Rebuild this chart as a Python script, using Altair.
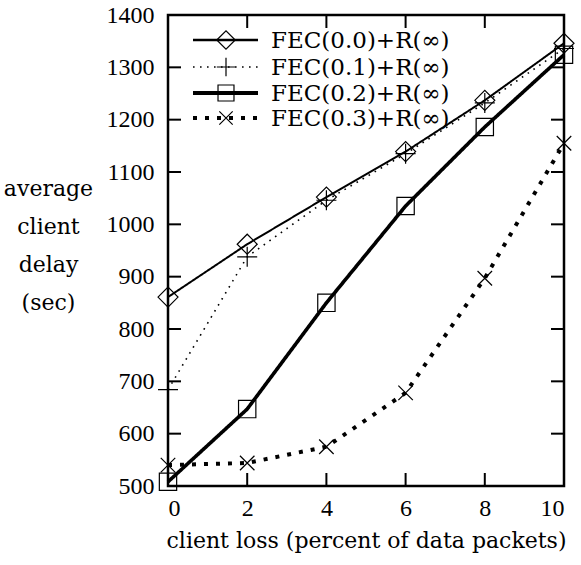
import altair as alt
import pandas as pd

# client loss (percent of data packets)
loss = [0, 2, 4, 6, 8, 10]

# average client delay (sec) for each FEC level
fec_00 = [861, 962, 1052, 1139, 1237, 1346]
fec_01 = [684, 938, 1046, 1135, 1232, 1336]
fec_02 = [508, 647, 850, 1035, 1186, 1324]
fec_03 = [540, 544, 575, 678, 897, 1155]

series_labels = ["FEC(0.0)+R(∞)", "FEC(0.1)+R(∞)", "FEC(0.2)+R(∞)", "FEC(0.3)+R(∞)"]
x_ticks = [0, 2, 4, 6, 8, 10]
y_ticks = [500, 600, 700, 800, 900, 1000, 1100, 1200, 1300, 1400]

W, H = 396, 471
NUM_FONT = "Liberation Serif"
TXT_FONT = "DejaVu Serif"

# path symbols for the open plus and x markers
PLUS = "M-1,0L1,0M0,-1L0,1"
XMARK = "M-1,-1L1,1M-1,1L1,-1"

styles = [
    dict(values=fec_00, width=2, dash=[1, 0], shape="diamond", size=400),
    dict(values=fec_01, width=1.6, dash=[1.6, 5.4], shape=PLUS, size=400),
    dict(values=fec_02, width=3.6, dash=[1, 0], shape="square", size=300),
    dict(values=fec_03, width=4, dash=[4, 8], shape=XMARK, size=210),
]

xscale = alt.Scale(domain=[0, 10], nice=False, zero=False)
yscale = alt.Scale(domain=[500, 1400], nice=False, zero=False)

x_axis = alt.Axis(
    values=x_ticks, format="d", ticks=False, domain=False, grid=False,
    labelFont=NUM_FONT, labelFontSize=24, labelColor="black", labelPadding=10,
    title="client loss (percent of data packets)",
    titleFont=TXT_FONT, titleFontSize=22, titleFontWeight="normal", titleColor="black",
    titlePadding=10,
)
y_axis = alt.Axis(
    values=y_ticks, format="d", ticks=False, domain=False, grid=False,
    labelFont=NUM_FONT, labelFontSize=24, labelColor="black", labelPadding=14,
    title=["average", "client", "delay", "(sec)"],
    titleFont=TXT_FONT, titleFontSize=22, titleFontWeight="normal", titleColor="black",
    titleAngle=0, titleAlign="center", titleBaseline="alphabetic",
    titleX=-120, titleY=180, titleLineHeight=38,
)


def xq(field):
    return alt.X(f"{field}:Q", scale=xscale, axis=x_axis)


def yq(field):
    return alt.Y(f"{field}:Q", scale=yscale, axis=y_axis)


layers = []
legend_rows = [25, 52, 78, 103]

for i, (label, st) in enumerate(zip(series_labels, styles)):
    df = pd.DataFrame({"loss": loss, "delay": st["values"], "series": label})
    line = alt.Chart(df).mark_line(
        color="black", strokeWidth=st["width"], strokeDash=st["dash"], strokeCap="butt",
    ).encode(x=xq("loss"), y=yq("delay"))
    pts = alt.Chart(df).mark_point(
        shape=st["shape"], size=st["size"], filled=False,
        color="black", strokeWidth=1.2, opacity=1,
    ).encode(x=xq("loss"), y=yq("delay"))
    layers += [line, pts]

    # legend entry: line sample, marker and label
    ly = legend_rows[i]
    lg = pd.DataFrame({"label": [label]})
    layers.append(alt.Chart(lg).mark_rule(
        color="black", strokeWidth=st["width"] + 0.6 * (st["dash"] == [1, 0]),
        strokeDash=st["dash"], strokeCap="butt",
    ).encode(x=alt.value(25), x2=alt.value(90), y=alt.value(ly)))
    layers.append(alt.Chart(lg).mark_point(
        shape=st["shape"], size=st["size"] * 0.85, filled=False,
        color="black", strokeWidth=1.2, opacity=1,
    ).encode(x=alt.value(58), y=alt.value(ly)))
    layers.append(alt.Chart(lg).mark_text(
        font=TXT_FONT, fontSize=23, align="left", baseline="middle", color="black",
    ).encode(x=alt.value(103), y=alt.value(ly + 1), text="label:N"))

# inward tick marks on all four sides
ydf = pd.DataFrame({"delay": y_ticks})
xdf = pd.DataFrame({"loss": x_ticks})
TL = 13
for x0, x1 in [(0, TL), (W - TL, W)]:
    layers.append(alt.Chart(ydf).mark_rule(color="black", strokeWidth=2).encode(
        y=yq("delay"), x=alt.value(x0), x2=alt.value(x1)))
for y0, y1 in [(H - TL, H), (0, TL)]:
    layers.append(alt.Chart(xdf).mark_rule(color="black", strokeWidth=2).encode(
        x=xq("loss"), y=alt.value(y0), y2=alt.value(y1)))

chart = alt.layer(*layers).properties(
    width=W, height=H,
    autosize=alt.AutoSizeParams(type="none"),
    padding={"left": 168, "top": 15, "right": 17, "bottom": 79},
    background="white",
).configure_view(stroke="black", strokeWidth=2.5)

chart.save("out.html", embed_options={"renderer": "svg", "actions": False})
